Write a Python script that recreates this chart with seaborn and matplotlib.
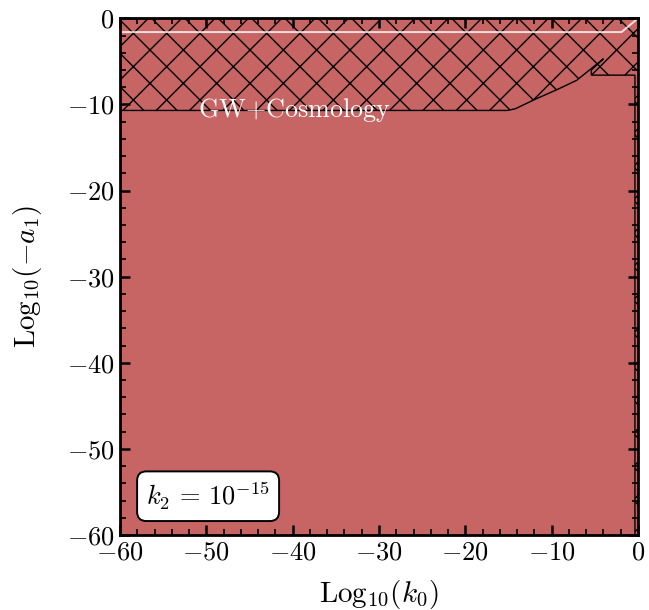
import numpy as np
import pandas as pd
import matplotlib
matplotlib.use("Agg")
import matplotlib.pyplot as plt
from matplotlib.ticker import MultipleLocator, FuncFormatter
import seaborn as sns

# boundary of the excluded (hatched) region
bound_x = [-60, -15.1, -14.2, -11.9, -9.2, -7.1, -4.0, -5.4, -5.4, -0.35, -0.35]
bound_y = [-10.7, -10.7, -10.5, -9.4, -8.2, -7.2, -4.7, -6.0, -6.6, -6.6, -60]

# faint white line near the top
line_x = [-60, -1.9, 0]
line_y = [-1.6, -1.6, 0]

x_range = [-60, 0]
y_range = [-60, 0]

sns.set_theme(style="ticks")
plt.rcParams.update({
    "font.family": ["serif"],
    "font.serif": ["cmr10", "DejaVu Serif"],
    "mathtext.fontset": "cm",
    "hatch.linewidth": 0.5,
    "axes.edgecolor": "black",
    "xtick.color": "black",
    "ytick.color": "black",
    "text.color": "black",
    "axes.labelcolor": "black",
    "xtick.direction": "in",
    "ytick.direction": "in",
    "xtick.top": True,
    "ytick.right": True,
    "xtick.major.size": 3.6,
    "ytick.major.size": 3.6,
    "xtick.minor.size": 2.0,
    "ytick.minor.size": 2.0,
    "xtick.major.width": 0.9,
    "ytick.major.width": 0.9,
    "xtick.minor.width": 0.6,
    "ytick.minor.width": 0.6,
    "axes.linewidth": 1.0,
})

fig = plt.figure(figsize=(3.245, 3.05), dpi=200)
ax = fig.add_axes([0.185, 0.123, 0.798, 0.847])

red = "#C76565"
ax.fill_between(x_range, y_range[0], y_range[1], color=red, lw=0, zorder=0)

# hatched excluded region: above the boundary plus the thin strip at the right
poly_x = [-60] + bound_x + [0, 0]
poly_y = [0] + bound_y + [-60, 0]
ax.fill(poly_x, poly_y, facecolor="none", edgecolor="black", hatch="xx",
        lw=0.5, zorder=2)

df_line = pd.DataFrame({"x": line_x, "y": line_y})
sns.lineplot(data=df_line, x="x", y="y", sort=False, estimator=None,
             color="white", alpha=0.8, lw=0.7, ax=ax, zorder=3)

ax.text(-39.8, -10.7, r"$\mathrm{GW{+}Cosmology}$", color="white",
        fontsize=9.4, ha="center", va="center", zorder=4)

ax.text(-49.8, -55.5, r"$k_2\,=\,10^{-15}$", fontsize=9.5, ha="center",
        va="center", zorder=5,
        bbox=dict(boxstyle="round,pad=0.35", fc="white", ec="black", lw=0.7))

ax.set_xlim(x_range)
ax.set_ylim(y_range)
ax.xaxis.set_major_locator(MultipleLocator(10))
ax.yaxis.set_major_locator(MultipleLocator(10))
ax.xaxis.set_minor_locator(MultipleLocator(2))
ax.yaxis.set_minor_locator(MultipleLocator(2))
fmt = FuncFormatter(lambda v, p: r"$%d$" % round(v))
ax.xaxis.set_major_formatter(fmt)
ax.yaxis.set_major_formatter(fmt)
ax.tick_params(labelsize=9.5, pad=2)
ax.set_xlabel(r"$\mathrm{Log}_{10}(k_0)$", fontsize=10.5, labelpad=5)
ax.set_ylabel(r"$\mathrm{Log}_{10}(-a_1)$", fontsize=10.5, labelpad=8)
for s in ax.spines.values():
    s.set_zorder(6)

fig.savefig("out.png", dpi=200)
